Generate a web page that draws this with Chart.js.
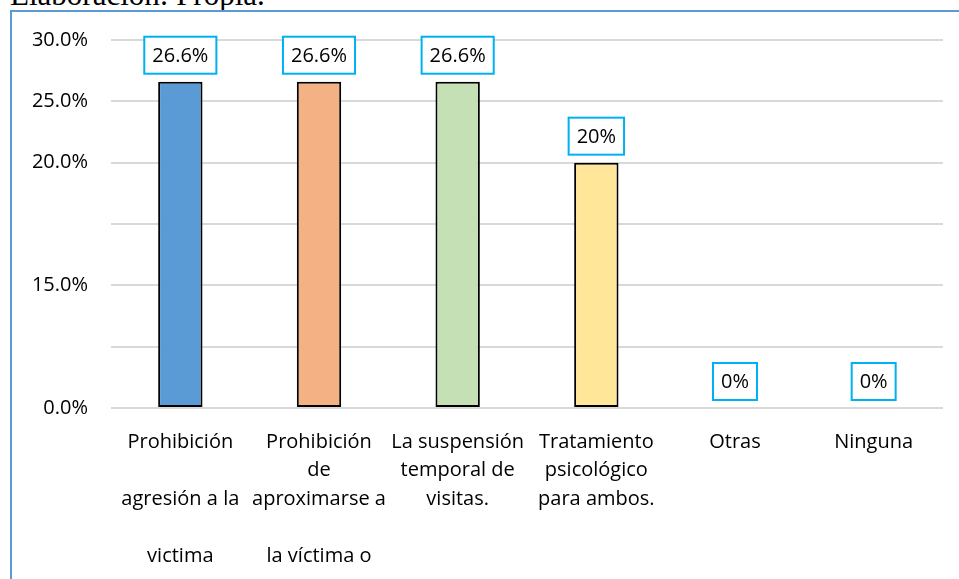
<!DOCTYPE html>
<html>
<head>
<meta charset="utf-8">
<script src="https://cdn.jsdelivr.net/npm/chart.js@4.4.0/dist/chart.umd.min.js"></script>
<style>
  html, body { margin: 0; padding: 0; background: #fff; overflow: hidden; }
  #wrap { position: relative; width: 959px; height: 579px; overflow: hidden; }
  #note { position: absolute; left: 10px; top: -21px; font: 31px "Liberation Serif", "Times New Roman", serif; line-height: 31px; color: #000; white-space: nowrap; }
  #frame { position: absolute; left: 10px; top: 10px; width: 2000px; height: 2000px; border: 2px solid #5b9bd5; }
  #barChart { position: absolute; left: 0; top: 0; }
</style>
</head>
<body>
<div id="wrap">
  <div id="note">Elaboración: Propia.</div>
  <div id="frame"></div>
  <canvas id="barChart" width="959" height="579"></canvas>
</div>
<script>
// categories (multi-line, as in the original figure)
const categories = [
    ['Prohibición', '', 'agresión a la', '', 'victima'],
    ['Prohibición', 'de', 'aproximarse a', '', 'la víctima o'],
    ['La suspensión', 'temporal de', 'visitas.'],
    ['Tratamiento', 'psicológico', 'para ambos.'],
    ['Otras'],
    ['Ninguna']
];

// percentage values
const values = [26.6, 26.6, 26.6, 20, 0, 0];

// text shown in the data label boxes
const valueLabels = ['26.6%', '26.6%', '26.6%', '20%', '0%', '0%'];

// y tick positions and the labels the original axis shows
const tickValues = [0, 5, 10, 15, 20, 25, 30];
const tickLabels = ['0.0%', '', '15.0%', '', '20.0%', '25.0%', '30.0%'];

const barColors = ['#5b9bd5', '#f4b183', '#c5e0b4', '#ffe699', '#a5a5a5', '#a5a5a5'];

const fontFamily = '"Open Sans", "Noto Sans", sans-serif';
const fontSize = 20;

// draw boxed value labels above the bars
const boxLabels = {
    id: 'boxLabels',
    afterDatasetsDraw (chart) {
        const ctx = chart.ctx;
        const meta = chart.getDatasetMeta(0);
        ctx.save();
        ctx.font = fontSize + 'px ' + fontFamily;
        ctx.textAlign = 'center';
        ctx.textBaseline = 'middle';
        meta.data.forEach(function (bar, i) {
            const text = valueLabels[i];
            const w = ctx.measureText(text).width + 16;
            const h = 37;
            const bottom = bar.y - 8;
            const top = bottom - h;
            ctx.fillStyle = '#ffffff';
            ctx.fillRect(bar.x - w / 2, top, w, h);
            ctx.strokeStyle = '#00b0f0';
            ctx.lineWidth = 2;
            ctx.strokeRect(bar.x - w / 2, top, w, h);
            ctx.fillStyle = '#000000';
            ctx.fillText(text, bar.x, top + h / 2 + 1);
        });
        ctx.restore();
    }
};

const config = {
    type: 'bar',
    data: {
        labels: categories,
        datasets: [{
            data: values,
            backgroundColor: barColors,
            borderColor: '#000000',
            borderWidth: 2,
            borderSkipped: false,
            categoryPercentage: 1,
            barPercentage: 0.32
        }]
    },
    options: {
        responsive: false,
        animation: false,
        layout: {
            padding: { top: 40, right: 16, left: 0, bottom: 0 }
        },
        plugins: {
            legend: { display: false },
            tooltip: { enabled: false }
        },
        scales: {
            x: {
                grid: { display: false },
                border: { display: false },
                ticks: {
                    color: '#000',
                    padding: 12,
                    maxRotation: 0,
                    autoSkip: false,
                    font: { family: fontFamily, size: fontSize, lineHeight: 1.42 }
                },
                afterFit (axis) { axis.height = 171; }
            },
            y: {
                min: 0,
                max: 30,
                afterBuildTicks (axis) {
                    axis.ticks = tickValues.map(function (v) { return { value: v }; });
                },
                grid: { color: '#d9d9d9', lineWidth: 2, drawTicks: false },
                border: { display: false },
                ticks: {
                    color: '#000',
                    padding: 23,
                    font: { family: fontFamily, size: fontSize },
                    callback: function (value) {
                        const i = tickValues.indexOf(value);
                        return i >= 0 ? tickLabels[i] : '';
                    }
                },
                afterFit (axis) { axis.width = 111; }
            }
        }
    },
    plugins: [boxLabels]
};

const myChart = new Chart(document.getElementById('barChart'), config);
</script>
</body>
</html>
